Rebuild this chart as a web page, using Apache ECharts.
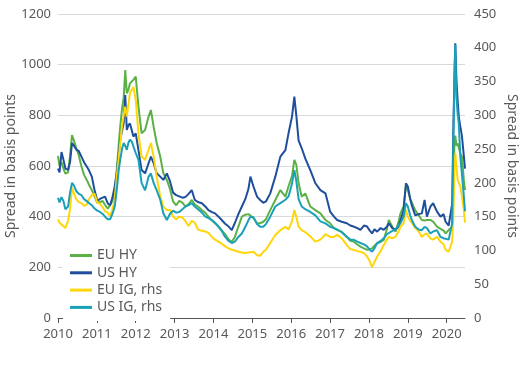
<!DOCTYPE html>
<html>
<head>
<meta charset="utf-8">
<script src="https://cdn.jsdelivr.net/npm/echarts@6/dist/echarts.min.js"></script>
<style>html,body{margin:0;padding:0;background:#fff;}#c{width:524px;height:367px;}</style>
</head>
<body>
<div id="c"></div>
<script>
// decimal-year dates
var dates = [
2010.00,2010.04,2010.09,2010.14,2010.19,2010.26,2010.31,2010.36,2010.41,2010.47,
2010.53,2010.60,2010.67,2010.74,2010.80,2010.87,2010.94,2011.01,2011.08,2011.15,
2011.21,2011.28,2011.34,2011.40,2011.46,2011.51,2011.56,2011.60,2011.65,2011.69,
2011.73,2011.77,2011.81,2011.85,2011.90,2011.94,2012.00,2012.07,2012.15,2012.24,
2012.33,2012.39,2012.46,2012.54,2012.63,2012.71,2012.80,2012.88,2012.96,2013.04,
2013.12,2013.20,2013.28,2013.36,2013.44,2013.52,2013.60,2013.70,2013.79,2013.87,
2013.96,2014.04,2014.13,2014.21,2014.30,2014.39,2014.47,2014.55,2014.64,2014.73,
2014.82,2014.90,2014.95,2015.03,2015.12,2015.20,2015.28,2015.35,2015.46,2015.59,
2015.72,2015.85,2015.93,2016.02,2016.08,2016.13,2016.19,2016.27,2016.36,2016.49,
2016.62,2016.75,2016.88,2017.00,2017.10,2017.18,2017.30,2017.43,2017.52,2017.60,
2017.70,2017.78,2017.87,2017.95,2018.02,2018.08,2018.14,2018.21,2018.30,2018.38,
2018.46,2018.51,2018.60,2018.68,2018.76,2018.81,2018.89,2018.95,2019.00,2019.06,
2019.11,2019.19,2019.28,2019.36,2019.43,2019.49,2019.58,2019.65,2019.75,2019.84,
2019.92,2019.97,2020.05,2020.10,2020.14,2020.17,2020.20,2020.22,2020.25,2020.28,
2020.31,2020.35,2020.39,2020.44,2020.47
];
var euHY = [
640,600,615,590,570,575,640,722,700,670,
645,600,565,545,525,505,480,455,458,462,
446,432,445,462,500,584,680,755,830,870,
979,887,900,926,920,940,953,834,729,742,
795,821,755,690,637,571,545,510,460,445,
462,455,440,450,466,448,440,426,415,400,
385,374,362,347,330,310,301,320,361,400,
408,410,405,395,374,374,380,390,426,466,
505,479,520,560,624,605,532,479,492,440,
426,413,387,374,355,348,340,321,305,302,
290,282,275,269,272,275,285,295,300,308,
350,387,360,341,380,413,440,519,505,470,
453,425,405,387,385,387,387,380,361,352,
345,334,347,340,360,520,700,720,680,690,
690,650,637,545,505
];
var usHY = [
590,575,655,625,590,585,615,690,680,665,
660,638,615,598,582,558,505,462,470,475,
479,452,445,475,520,571,640,703,740,770,
880,742,760,768,740,716,729,663,584,571,
611,637,611,571,558,545,571,540,495,485,
480,475,478,490,505,466,458,453,440,426,
418,413,400,387,372,361,347,375,410,440,
470,510,558,518,479,466,455,460,492,558,
637,663,729,795,874,800,700,670,630,584,
532,505,492,420,400,387,380,374,365,361,
355,348,365,361,345,334,350,341,355,348,
360,374,355,348,360,385,426,532,519,470,
440,405,410,413,466,400,440,453,420,400,
410,380,365,361,450,742,960,1084,940,860,
795,755,720,640,590
];
var euIG = [
146,141,140,136,133,144,161,193,184,176,
172,170,166,168,176,182,184,171,169,164,
158,156,151,161,176,209,236,259,285,300,
313,298,315,333,338,342,323,273,239,234,
249,259,239,209,180,165,160,160,150,146,
150,149,143,136,144,141,131,129,128,126,
120,116,113,110,106,103,101,100,98,97,
96,97,98,98,93,92,98,101,111,123,
130,135,131,143,160,150,135,130,127,121,
113,116,124,120,120,123,118,108,102,101,
99,98,96,91,84,75,83,91,99,108,
116,120,118,120,128,135,140,160,150,144,
140,133,128,120,124,125,118,116,120,113,
109,101,98,96,113,150,225,244,225,205,
200,195,180,160,141
];
var usIG = [
178,171,179,173,161,165,186,200,196,188,
184,182,176,173,170,167,162,159,157,154,
150,146,146,154,165,189,218,234,251,259,
255,249,259,264,261,254,244,234,200,189,
209,214,200,189,175,155,145,154,159,156,
157,161,165,167,170,165,161,156,150,148,
145,141,135,129,120,114,111,113,120,125,
135,145,150,149,139,135,135,139,150,165,
170,175,180,199,219,203,176,165,161,157,
152,143,140,135,133,131,127,120,116,116,
113,111,109,106,101,98,103,111,114,118,
124,125,129,131,137,140,150,170,165,152,
144,135,131,130,135,133,125,128,130,120,
118,116,116,116,140,263,360,405,326,303,
288,239,214,180,158
];
var yearTicks = [2010,2011,2012,2013,2014,2015,2016,2017,2018,2019,2020];
var seriesNames = ['EU HY','US HY','EU IG, rhs','US IG, rhs'];
var colors = ['#5cb146','#1f4f9c','#ffd60a','#1aa0b8'];

function pairs(vals){ return vals.map(function(v,i){ return [dates[i], v]; }); }

var FONT = 'Noto Sans';
var gray = '#595959';
var chart = echarts.init(document.getElementById('c'), null, {renderer:'canvas'});
chart.setOption({
  animation: false,
  backgroundColor: '#fff',
  textStyle: {fontFamily: FONT},
  grid: {left: 58, right: 59, top: 14, bottom: 49, containLabel: false, outerBoundsMode: 'none'},
  legend: {
    orient: 'vertical', left: 63, top: 242,
    backgroundColor: '#fff', padding: [5, 8, 5, 7],
    icon: 'rect', itemWidth: 22, itemHeight: 3, itemGap: 0.3,
    textStyle: {fontFamily: FONT, fontSize: 14, color: gray, lineHeight: 17},
    data: seriesNames
  },
  xAxis: {
    type: 'value', min: 2010, max: 2020.47, interval: 1,
    axisLine: {show: true, lineStyle: {color: '#555', width: 1}},
    axisTick: {show: true, length: 5, lineStyle: {color: '#555'}, customValues: yearTicks},
    axisLabel: {fontFamily: FONT, fontSize: 13, color: gray, margin: 10, customValues: yearTicks,
      formatter: function(v){ return Math.abs(v - Math.round(v)) < 1e-6 ? String(Math.round(v)) : ''; }},
    splitLine: {show: false}
  },
  yAxis: [{
    type: 'value', min: 0, max: 1200, interval: 200, position: 'left',
    name: 'Spread in basis points', nameLocation: 'middle', nameGap: 40, nameMoveOverlap: false,
    nameTextStyle: {fontFamily: FONT, fontSize: 14, color: gray},
    axisLine: {show: false}, axisTick: {show: false},
    axisLabel: {fontFamily: FONT, fontSize: 13, color: gray, margin: 7, formatter: function(v){ return String(v); }},
    splitLine: {show: true, lineStyle: {color: '#d6dadd', width: 1}}
  }, {
    type: 'value', min: 0, max: 450, interval: 50, position: 'right',
    name: 'Spread in basis points', nameLocation: 'middle', nameGap: 40, nameRotate: -90, nameMoveOverlap: false,
    nameTextStyle: {fontFamily: FONT, fontSize: 14, color: gray},
    axisLine: {show: false}, axisTick: {show: false},
    axisLabel: {fontFamily: FONT, fontSize: 13, color: gray, margin: 9, formatter: function(v){ return String(v); }},
    splitLine: {show: false}
  }],
  series: [
    {name: seriesNames[0], type: 'line', yAxisIndex: 0, data: pairs(euHY), symbol: 'none', lineStyle: {width: 2, color: colors[0]}, itemStyle: {color: colors[0]}},
    {name: seriesNames[1], type: 'line', yAxisIndex: 0, data: pairs(usHY), symbol: 'none', lineStyle: {width: 2, color: colors[1]}, itemStyle: {color: colors[1]}},
    {name: seriesNames[2], type: 'line', yAxisIndex: 1, data: pairs(euIG), symbol: 'none', lineStyle: {width: 2, color: colors[2]}, itemStyle: {color: colors[2]}},
    {name: seriesNames[3], type: 'line', yAxisIndex: 1, data: pairs(usIG), symbol: 'none', lineStyle: {width: 2, color: colors[3]}, itemStyle: {color: colors[3]}}
  ]
});
</script>
</body>
</html>
